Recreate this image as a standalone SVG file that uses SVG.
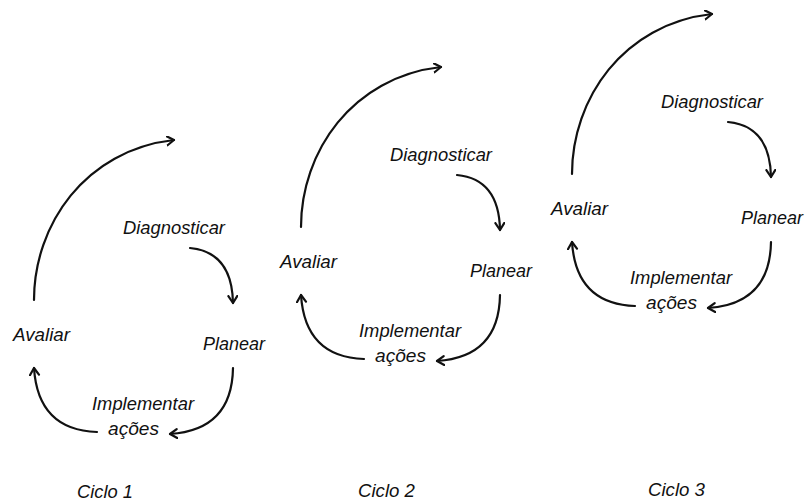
<svg xmlns="http://www.w3.org/2000/svg" width="805" height="502" viewBox="0 0 805 502">
<defs>
<style>
.t{font-family:"Liberation Sans",Arial,sans-serif;font-style:italic;font-size:17.5px;fill:#111;}
.c{fill:none;stroke:#111;stroke-width:2.2;stroke-linecap:round;}
</style>
<marker id="ah" markerWidth="12" markerHeight="12" refX="8" refY="5" orient="auto" markerUnits="userSpaceOnUse">
<path d="M1,0.5 L8,5 L1,9.5" fill="none" stroke="#111" stroke-width="2.2" stroke-linecap="round" stroke-linejoin="round"/>
</marker>
</defs>
<rect width="805" height="502" fill="#fff"/>
<g id="connectors">
<g id="conn-c1">
<path class="c" d="M34,300 C34,225 85,150 174,140" marker-end="url(#ah)"/>
<path class="c" d="M190,248 Q232,252 233,303" marker-end="url(#ah)"/>
<path class="c" d="M233,368 Q232,430 170,434" marker-end="url(#ah)"/>
<path class="c" d="M97,432 Q38,430 34,368" marker-end="url(#ah)"/>
</g>
<g id="conn-c2" transform="translate(267,-73)">
<path class="c" d="M34,300 C34,225 85,150 174,140" marker-end="url(#ah)"/>
<path class="c" d="M190,248 Q232,252 233,303" marker-end="url(#ah)"/>
<path class="c" d="M233,368 Q232,430 170,434" marker-end="url(#ah)"/>
<path class="c" d="M97,432 Q38,430 34,368" marker-end="url(#ah)"/>
</g>
<g id="conn-c3" transform="translate(538,-126)">
<path class="c" d="M34,300 C34,225 85,150 174,140" marker-end="url(#ah)"/>
<path class="c" d="M190,248 Q232,252 233,303" marker-end="url(#ah)"/>
<path class="c" d="M233,368 Q232,430 170,434" marker-end="url(#ah)"/>
<path class="c" d="M97,432 Q38,430 34,368" marker-end="url(#ah)"/>
</g>
</g>
<g id="c1-diagnosticar"><text class="t" x="123" y="234" textLength="102" lengthAdjust="spacingAndGlyphs">Diagnosticar</text></g>
<g id="c1-avaliar"><text class="t" x="13" y="341" textLength="57" lengthAdjust="spacingAndGlyphs">Avaliar</text></g>
<g id="c1-planear"><text class="t" x="203" y="350" textLength="62" lengthAdjust="spacingAndGlyphs">Planear</text></g>
<g id="c1-implementar"><text class="t" x="92" y="410" textLength="102" lengthAdjust="spacingAndGlyphs">Implementar</text><text class="t" x="108" y="435" textLength="51" lengthAdjust="spacingAndGlyphs">ações</text></g>
<g id="c1-label"><text class="t" x="77" y="498" textLength="56" lengthAdjust="spacingAndGlyphs">Ciclo 1</text></g>
<g id="c2-diagnosticar"><text class="t" x="390" y="161" textLength="102" lengthAdjust="spacingAndGlyphs">Diagnosticar</text></g>
<g id="c2-avaliar"><text class="t" x="280" y="268" textLength="57" lengthAdjust="spacingAndGlyphs">Avaliar</text></g>
<g id="c2-planear"><text class="t" x="470" y="277" textLength="62" lengthAdjust="spacingAndGlyphs">Planear</text></g>
<g id="c2-implementar"><text class="t" x="359" y="337" textLength="102" lengthAdjust="spacingAndGlyphs">Implementar</text><text class="t" x="375" y="362" textLength="51" lengthAdjust="spacingAndGlyphs">ações</text></g>
<g id="c2-label"><text class="t" x="358" y="497" textLength="57" lengthAdjust="spacingAndGlyphs">Ciclo 2</text></g>
<g id="c3-diagnosticar"><text class="t" x="661" y="108" textLength="102" lengthAdjust="spacingAndGlyphs">Diagnosticar</text></g>
<g id="c3-avaliar"><text class="t" x="551" y="215" textLength="57" lengthAdjust="spacingAndGlyphs">Avaliar</text></g>
<g id="c3-planear"><text class="t" x="741" y="224" textLength="62" lengthAdjust="spacingAndGlyphs">Planear</text></g>
<g id="c3-implementar"><text class="t" x="630" y="284" textLength="102" lengthAdjust="spacingAndGlyphs">Implementar</text><text class="t" x="646" y="309" textLength="51" lengthAdjust="spacingAndGlyphs">ações</text></g>
<g id="c3-label"><text class="t" x="648" y="496" textLength="57" lengthAdjust="spacingAndGlyphs">Ciclo 3</text></g>
</svg>
